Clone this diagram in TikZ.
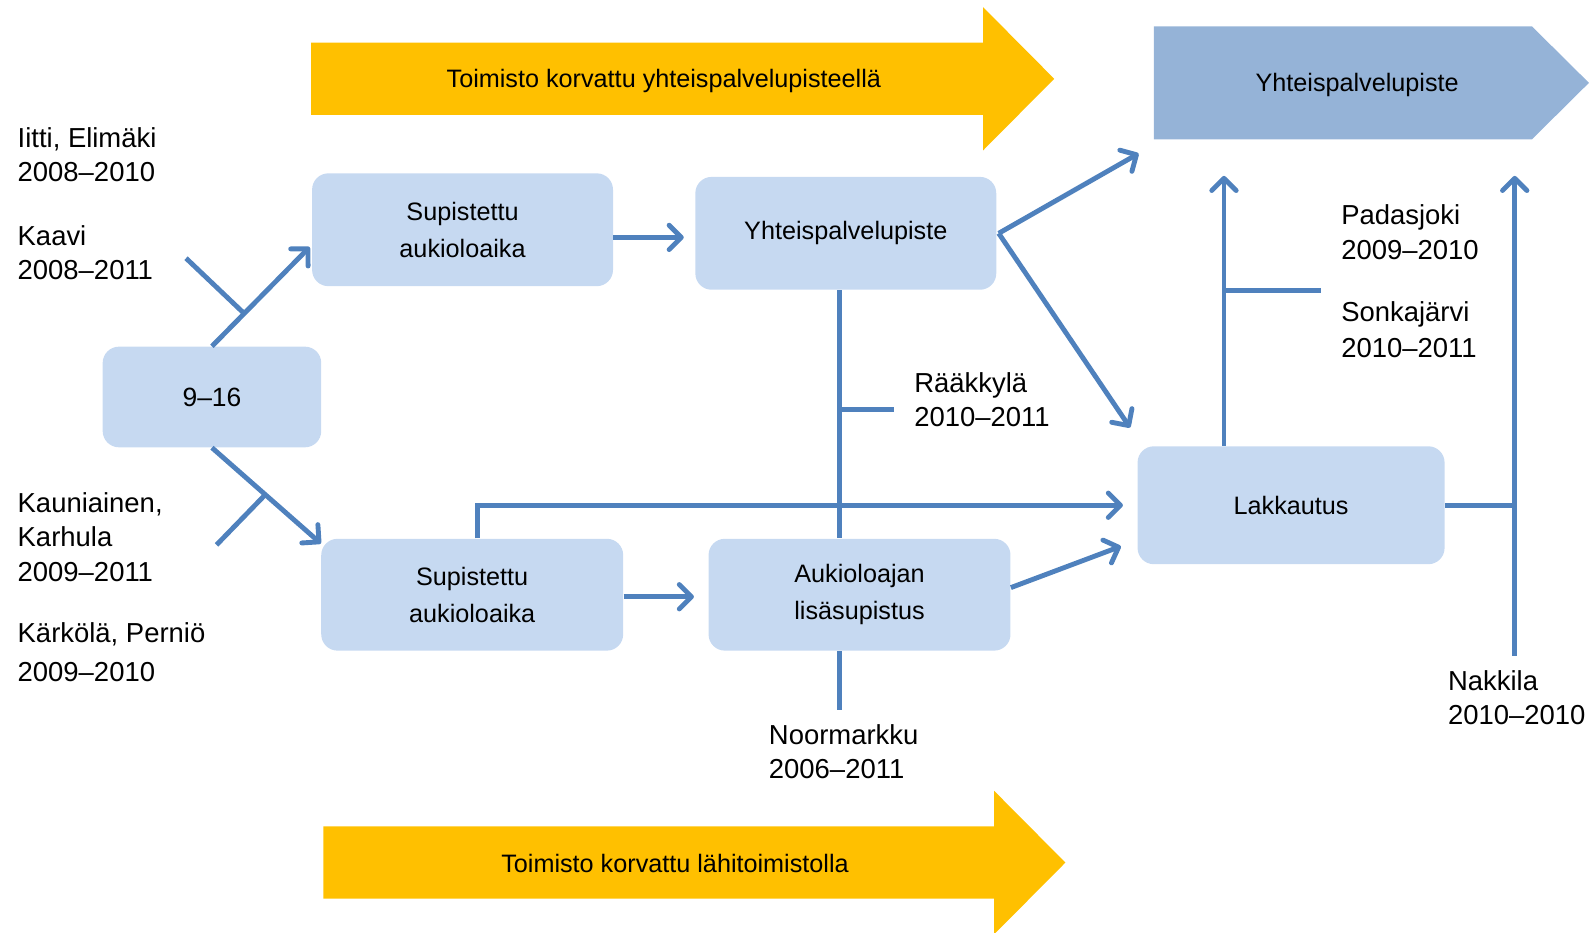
\documentclass[tikz,border=0pt]{standalone}
\usepackage{fontspec}
\setmainfont{Liberation Sans}
\usetikzlibrary{arrows.meta, calc, positioning}
\definecolor{boxblue}{HTML}{C6D9F1}
\definecolor{headblue}{HTML}{95B3D7}
\definecolor{lineblue}{HTML}{4F81BD}
\definecolor{bandorange}{HTML}{FFC000}

\begin{document}
\begin{tikzpicture}[
  x=0.5pt, y=-0.5pt,
  stage/.style={rectangle, rounded corners=8pt, fill=boxblue, align=center,
    inner sep=0pt, font=\fontsize{12.4}{18}\selectfont},
  place/.style={anchor=base west, align=left, inner sep=0pt,
    font=\fontsize{13.5}{17}\selectfont},
  band/.style={inner sep=0pt, font=\fontsize{12.4}{15}\selectfont},
  link/.style={line width=2.4pt, lineblue},
  arrow/.style={link, -{Straight Barb[length=6pt, width=12pt, round]}}
]
\useasboundingbox (0,0) rectangle (1568,917);

% Background bands
\fill[bandorange] (306,42) -- (967,42) -- (967,7) -- (1037,77.5) -- (967,148)
  -- (967,113) -- (306,113) -- cycle;
\node[band] (topband) at (653,80) {Toimisto korvattu yhteispalvelupisteellä};

\fill[bandorange] (318,813) -- (978,813) -- (978,778) -- (1048,848.5) -- (978,919)
  -- (978,884) -- (318,884) -- cycle;
\node[band] (botband) at (664,849) {Toimisto korvattu lähitoimistolla};

\fill[headblue] (1135,26) -- (1507,26) -- (1563,81.5) -- (1507,137) -- (1135,137) -- cycle;
\node[band] (ypsend) at (1335,84) {Yhteispalvelupiste};

% Stages
\node[stage, minimum width=107.5pt, minimum height=49.5pt, font=\fontsize{13}{18}\selectfont] (b916) at (208.5,390.5) {9--16};
\node[stage, minimum width=148pt, minimum height=55.5pt] (supA) at (455,226) {Supistettu\\aukioloaika};
\node[stage, minimum width=148pt, minimum height=55.5pt] (yps) at (832,229.5) {Yhteispalvelupiste};
\node[stage, minimum width=148.5pt, minimum height=55pt] (supB) at (464.5,585) {Supistettu\\aukioloaika};
\node[stage, minimum width=148.5pt, minimum height=55pt] (aukio) at (845.5,585) {Aukioloajan\\lisäsupistus};
\node[stage, minimum width=151pt, minimum height=58pt] (lakk) at (1270,497) {Lakkautus};

% Places and years (anchored on the last line)
\node[place] (iitti) at (17,179) {Iitti, Elimäki\\2008–2010};
\node[place] (kaavi) at (17,275) {Kaavi\\2008–2011};
\node[place] (kaun) at (17,572) {Kauniainen,\\Karhula\\2009–2011};
\node[place, font=\fontsize{13.5}{19}\selectfont] (kark) at (17,670) {Kärkölä, Perniö\\2009–2010};
\node[place] (raak) at (899,420) {Rääkkylä\\2010–2011};
\node[place] (padas) at (1319,255) {Padasjoki\\2009–2010};
\node[place, font=\fontsize{13.5}{18}\selectfont] (sonka) at (1319,352) {Sonkajärvi\\2010–2011};
\node[place] (noor) at (756,766) {Noormarkku\\2006–2011};
\node[place] (nakk) at (1424,713) {Nakkila\\2010–2010};

% Connector ends
\coordinate (supAin) at ($(supA.west)+(-2,17)$);
\coordinate (supBin) at ($(supB.north west)+(0,5)$);
\coordinate (ypsin) at (1120,151);
\coordinate (lakkin) at ($(lakk.north west)+(-7,-18)$);
\coordinate (kaaviend) at (183,254);
\coordinate (kaunend) at (213,536);
\coordinate (rk) at (826,403);
\coordinate (rkend) at (879,403);
\coordinate (noorend) at (826,698);
\coordinate (lk) at (1204,286);
\coordinate (lkend) at (1299,286);
\coordinate (ypsup) at (1204,173);
\coordinate (nk) at (1490,497);
\coordinate (nkend) at (1490,645);
\coordinate (nktop) at (1490,173);

% Arrows from 9-16
\draw[arrow] (b916.north) -- (supAin);
\draw[link] (kaaviend) -- ($(b916.north)!0.33!(supAin)$);
\draw[arrow] (b916.south) -- (supBin);
\draw[link] (kaunend) -- ($(b916.south)!0.49!(supBin)$);

% Upper row
\draw[arrow] ($(supA.east)+(0,7.5)$) -- ($(yps.west)+(-11,4)$);
\draw[arrow] ($(yps.east)+(2,0)$) -- (ypsin);
\draw[arrow] ($(yps.east)+(2,0)$) -- (lakkin);
\draw[link] (rk |- yps.south) -- (rk |- aukio.north);
\draw[link] (rk) -- (rkend);

% Lower row
\draw[arrow] ($(supB.north)+(5,0)$) |- ($(lakk.west)+(-14,0)$);
\draw[arrow] ($(supB.east)+(0,2)$) -- ($(aukio.west)+(-14,2)$);
\draw[arrow] ($(aukio.east)+(0,-7)$) -- ($(lakk.south west)+(-16,-18)$);
\draw[link] (rk |- aukio.south) -- (noorend);

% Closing
\draw[arrow] (lk |- lakk.north) -- (ypsup);
\draw[link] (lk) -- (lkend);
\draw[link] (lakk.east) -- (nk);
\draw[arrow] (nkend) -- (nktop);

\end{tikzpicture}
\end{document}
